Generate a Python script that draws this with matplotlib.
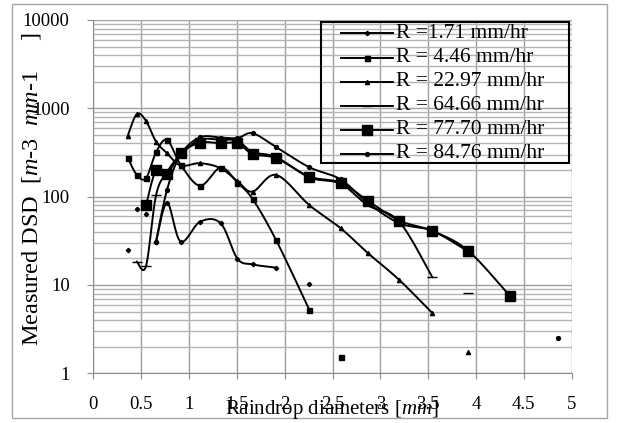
import numpy as np
import matplotlib
matplotlib.use("Agg")
import matplotlib.pyplot as plt
from matplotlib.patches import Rectangle

# =========================
# data (JWD diameter classes, mm)
# nan = break in the line
# =========================
nan = np.nan

d_171 = [0.359, nan, 0.455, nan, 0.551, nan, 0.656, 0.771, 0.913, 1.116, 1.331, 1.506, 1.665, 1.912, nan, 2.259]
v_171 = [25, nan, 72, nan, 64, nan, 31, 85, 31, 52, 50, 19.9, 17.1, 15.7, nan, 10.3]

d_446 = [0.359, 0.455, 0.551, 0.656, 0.771, 0.913, 1.116, 1.331, 1.506, 1.665, 1.912, 2.259, nan, 2.584]
v_446 = [277, 176, 162, 318, 438, 230, 133, 213, 144, 94, 32, 5.2, nan, 1.54]

d_2297 = [0.359, 0.455, 0.551, 0.656, 0.771, 0.913, 1.116, 1.331, 1.506, 1.665, 1.912, 2.259, 2.584, 2.869, 3.198, 3.544, nan, 3.916]
v_2297 = [487, 860, 720, 420, 310, 225, 239, 210, 150, 114, 176, 80, 44, 23, 11.4, 4.8, nan, 1.74]

d_6466 = [0.455, 0.551, 0.656, 0.771, 0.913, 1.116, 1.331, 1.506, 1.665, 1.912, 2.259, 2.584, 2.869, 3.198, 3.544, nan, 3.916]
v_6466 = [18.4, 16.4, 104, 190, 300, 440, 440, 430, 320, 280, 165, 140, 80, 52, 12.2, nan, 8.05]

d_7770 = [0.551, 0.656, 0.771, 0.913, 1.116, 1.331, 1.506, 1.665, 1.912, 2.259, 2.584, 2.869, 3.198, 3.544, 3.916, 4.350]
v_7770 = [80, 200, 181, 310, 408, 403, 403, 304, 272, 169, 144, 90, 53.5, 41, 24.5, 7.6]

d_8476 = [0.656, 0.771, 0.913, 1.116, 1.331, 1.506, 1.665, 1.912, 2.259, 2.584, 2.869, 3.198, 3.544, 3.916, nan, 4.859]
v_8476 = [31, 120, 300, 470, 466, 460, 522, 363, 215, 157, 85, 50, 41, 24, nan, 2.53]

labels = ['R =1.71 mm/hr', 'R = 4.46 mm/hr', 'R = 22.97 mm/hr',
          'R = 64.66 mm/hr', 'R = 77.70 mm/hr', 'R = 84.76 mm/hr']

x_ticks = [0, 0.5, 1, 1.5, 2, 2.5, 3, 3.5, 4, 4.5, 5]
x_tick_labels = ['0', '0.5', '1', '1.5', '2', '2.5', '3', '3.5', '4', '4.5', '5']
y_ticks = [1, 10, 100, 1000, 10000]
y_tick_labels = ['1', '10', '100', '1000', '10000']


# =========================
# Excel-like smoothed line (bezier through points, in screen space)
# =========================
def smooth(xs, ys, n=20):
    xs = np.asarray(xs, float)
    ly = np.log10(np.asarray(ys, float))
    if len(xs) < 3:
        return xs, 10 ** ly
    px = np.concatenate([[xs[0]], xs, [xs[-1]]])
    py = np.concatenate([[ly[0]], ly, [ly[-1]]])
    out_x, out_y = [], []
    t = np.linspace(0, 1, n)
    for i in range(1, len(px) - 2):
        p0x, p1x, p2x, p3x = px[i - 1], px[i], px[i + 1], px[i + 2]
        p0y, p1y, p2y, p3y = py[i - 1], py[i], py[i + 1], py[i + 2]
        c1x = p1x + (p2x - p0x) / 6
        c1y = p1y + (p2y - p0y) / 6
        c2x = p2x - (p3x - p1x) / 6
        c2y = p2y - (p3y - p1y) / 6
        bx = (1 - t) ** 3 * p1x + 3 * (1 - t) ** 2 * t * c1x + 3 * (1 - t) * t ** 2 * c2x + t ** 3 * p2x
        by = (1 - t) ** 3 * p1y + 3 * (1 - t) ** 2 * t * c1y + 3 * (1 - t) * t ** 2 * c2y + t ** 3 * p2y
        out_x.extend(bx)
        out_y.extend(by)
    return np.array(out_x), 10 ** np.array(out_y)


def draw_series(ax, d, v, marker, ms):
    d = np.asarray(d, float)
    v = np.asarray(v, float)
    ok = ~np.isnan(d)
    # split into runs between nan
    runs = []
    cur = []
    for i in range(len(d)):
        if ok[i]:
            cur.append(i)
        else:
            if cur:
                runs.append(cur)
            cur = []
    if cur:
        runs.append(cur)
    for r in runs:
        if len(r) > 1:
            sx, sy = smooth(d[r], v[r])
            ax.plot(sx, sy, color='black', lw=1.4, zorder=3)
    ax.plot(d[ok], v[ok], ls='none', marker=marker, ms=ms, color='black', zorder=4)


plt.rcParams['font.family'] = ['Liberation Serif', 'DejaVu Serif']
plt.rcParams['mathtext.fontset'] = 'custom'
plt.rcParams['mathtext.it'] = 'Liberation Serif:italic'
plt.rcParams['mathtext.rm'] = 'Liberation Serif'

fig = plt.figure(figsize=(6.17, 4.23), dpi=100)
fig.patch.set_facecolor('white')

ax = fig.add_axes([93.3 / 617, 1 - 373.3 / 423, (571.7 - 93.3) / 617, (373.3 - 20) / 423])

styles = [('D', 2.2), ('s', 3.6), ('^', 3.0), ('_', 6.5), ('s', 7.5), ('o', 2.8)]
all_d = [d_171, d_446, d_2297, d_6466, d_7770, d_8476]
all_v = [v_171, v_446, v_2297, v_6466, v_7770, v_8476]
for d, v, (mk, ms) in zip(all_d, all_v, styles):
    draw_series(ax, d, v, mk, ms)

ax.set_yscale('log')
ax.set_xlim(0, 5)
ax.set_ylim(1, 10000)
ax.set_xticks(x_ticks)
ax.set_xticklabels(x_tick_labels)
ax.set_yticks(y_ticks)
ax.set_yticklabels(y_tick_labels)
ax.yaxis.set_minor_locator(matplotlib.ticker.LogLocator(base=10, subs=np.arange(2, 10)))
ax.yaxis.set_minor_formatter(matplotlib.ticker.NullFormatter())

ax.grid(True, which='major', color='#a0a0a0', lw=1.0)
ax.grid(True, which='minor', axis='y', color='#b4b4b4', lw=1.0)
ax.set_axisbelow(True)

for s in ['top', 'right']:
    ax.spines[s].set_visible(False)
for s in ['left', 'bottom']:
    ax.spines[s].set_color('#8c8c8c')
ax.tick_params(which='major', direction='out', length=4, color='#8c8c8c', labelsize=13.5)
ax.tick_params(axis='x', pad=12)
ax.tick_params(axis='y', pad=13)
ax.tick_params(which='minor', length=0)

# axis titles (overlap the tick labels like the original)
fig.text(332 / 617, 1 - 409 / 423, r'Raindrop diameters [$mm$]', fontsize=15, ha='center', va='center')
fig.text(32 / 617, 1 - 189 / 423, r'Measured DSD  [$m$-3  $mm$-1     ]', fontsize=17.5, rotation=90,
         ha='center', va='center')

# =========================
# legend drawn by hand in pixel coordinates
# =========================
lax = fig.add_axes([0, 0, 1, 1], facecolor='none')
lax.set_xlim(0, 617)
lax.set_ylim(423, 0)
lax.axis('off')

lax.add_patch(Rectangle((12, 4), 595, 414, fill=False, edgecolor='#a6a6a6', lw=1.0))
lax.add_patch(Rectangle((321, 22), 248, 141, fill=False, edgecolor='black', lw=1.5))
for i, (lab, (mk, ms)) in enumerate(zip(labels, styles)):
    yy = 33.5 + i * 24.1
    lax.plot([341, 393], [yy, yy], color='black', lw=1.4)
    lax.plot([367], [yy], marker=mk, ms=ms, color='black', ls='none')
    lax.text(396, yy, lab, fontsize=15.5, ha='left', va='center')

plt.savefig('out.png', dpi=100)
